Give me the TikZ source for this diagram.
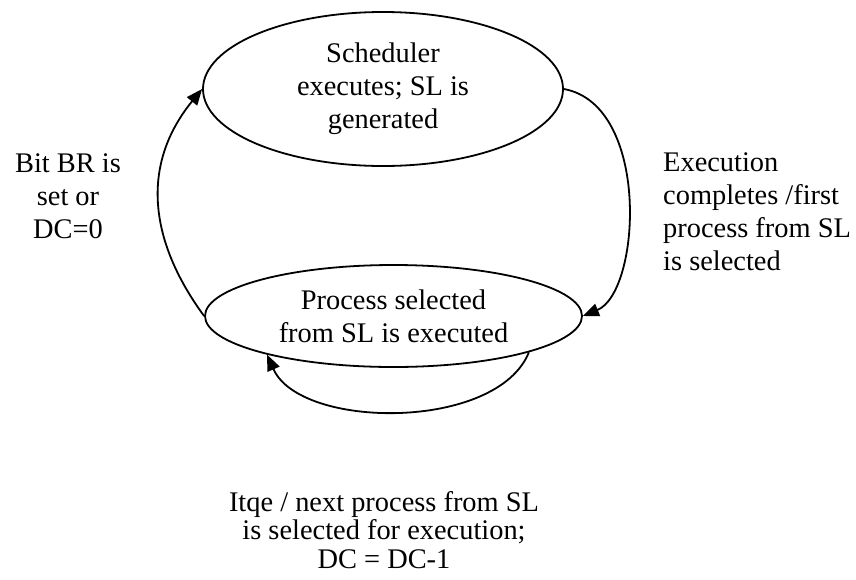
\documentclass[tikz,border=0pt]{standalone}
\usepackage{fontspec}
\setmainfont{Liberation Serif}
\usetikzlibrary{positioning,arrows.meta,shapes.geometric}

\begin{document}
\begin{tikzpicture}[
  x=1pt, y=-1pt,
  state/.style={draw, ellipse, line width=1.8pt, inner sep=0pt, align=center,
                font=\fontsize{28.4}{33}\selectfont},
  lbl/.style  ={inner sep=0pt, font=\fontsize{28.4}{33}\selectfont},
  arr/.style  ={-{Triangle[length=16pt,width=13pt]}, line width=1.8pt}
]
\useasboundingbox (0,0) rectangle (856,579);

\node[state, minimum width=360pt, minimum height=154pt] (sched) at (383,89) {Scheduler\\ executes; SL is\\ generated};
\node[state, minimum width=377pt, minimum height=102pt] (exec) at (393.5,316) {Process selected\\ from SL is executed};

\node[lbl, align=center] (brset) at (68,196) {Bit BR is\\ set or\\ DC=0};
\node[lbl, align=left, anchor=west] (done) at (663,212) {Execution\\ completes /first\\ process from SL\\ is selected};
\node[lbl, align=center, font=\fontsize{28.4}{28.5}\selectfont] (itqe) at (384,530) {Itqe / next process from SL\\ is selected for execution;\\ DC = DC-1};

\draw[arr] (sched.east) .. controls +(87,16) and +(58,-24) .. (exec.east);
\draw[arr] (exec.west) .. controls +(-55,-75) and +(-62,76) .. (sched.west);
\draw[arr] (exec.-15.5) .. controls +(-32,79) and +(33,75) .. (exec.-163);
\end{tikzpicture}
\end{document}
